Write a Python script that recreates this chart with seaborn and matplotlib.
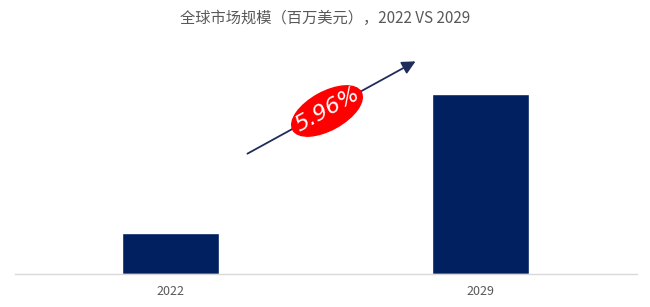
import matplotlib
matplotlib.use("Agg")
import matplotlib.pyplot as plt
import seaborn as sns
import pandas as pd
from matplotlib.patches import Ellipse, FancyArrowPatch
from matplotlib.transforms import Affine2D

years = ["2022", "2029"]
market_size = [40, 179]
cagr_label = "5.96%"
title = "全球市场规模（百万美元），2022 VS 2029"

sns.set_theme(style="white")
plt.rcParams['font.family'] = ['Noto Sans CJK SC', 'DejaVu Sans']

df = pd.DataFrame({"year": years, "size": market_size})

W, H = 650, 307
fig = plt.figure(figsize=(W / 100, H / 100), dpi=100)
ax = fig.add_axes([15 / W, 1 - 273.5 / H, (637 - 15) / W, (273.5 - 40) / H])
sns.barplot(data=df, x="year", y="size", color="#002060", width=0.313,
            saturation=1, ax=ax)
ax.set_xlim(-0.502, 1.505)
ax.set_ylim(0, 233)
ax.set_xlabel("")
ax.set_ylabel("")
ax.set_yticks([])
for s in ["top", "right", "left"]:
    ax.spines[s].set_visible(False)
ax.spines["bottom"].set_color("#d9d9d9")
ax.spines["bottom"].set_linewidth(1)
ax.tick_params(axis="x", length=0, pad=8, labelsize=9, labelcolor="#595959")

fig.text(0.5, 1 - 18 / H, title, ha="center", va="center",
         fontsize=11, color="#595959")

def fx(px):
    return px / W

def fy(py):
    return 1 - py / H

fig.add_artist(FancyArrowPatch(
    (fx(245), fy(155)), (fx(418), fy(60)), transform=fig.transFigure,
    arrowstyle="-|>,head_length=8,head_width=4", color="#1f2d5c", lw=1.3,
    mutation_scale=1))

ell = Ellipse((327, H - 111), width=78, height=38, angle=29,
              transform=Affine2D().scale(1 / W, 1 / H) + fig.transFigure,
              color="#ff0000", zorder=5)
fig.add_artist(ell)
fig.text(fx(328), fy(110), cagr_label, ha="center", va="center",
         rotation=29, fontsize=16, color="white", style="italic", zorder=6,
         family=["DejaVu Sans"])

fig.savefig("out.png", dpi=100, facecolor="white")
